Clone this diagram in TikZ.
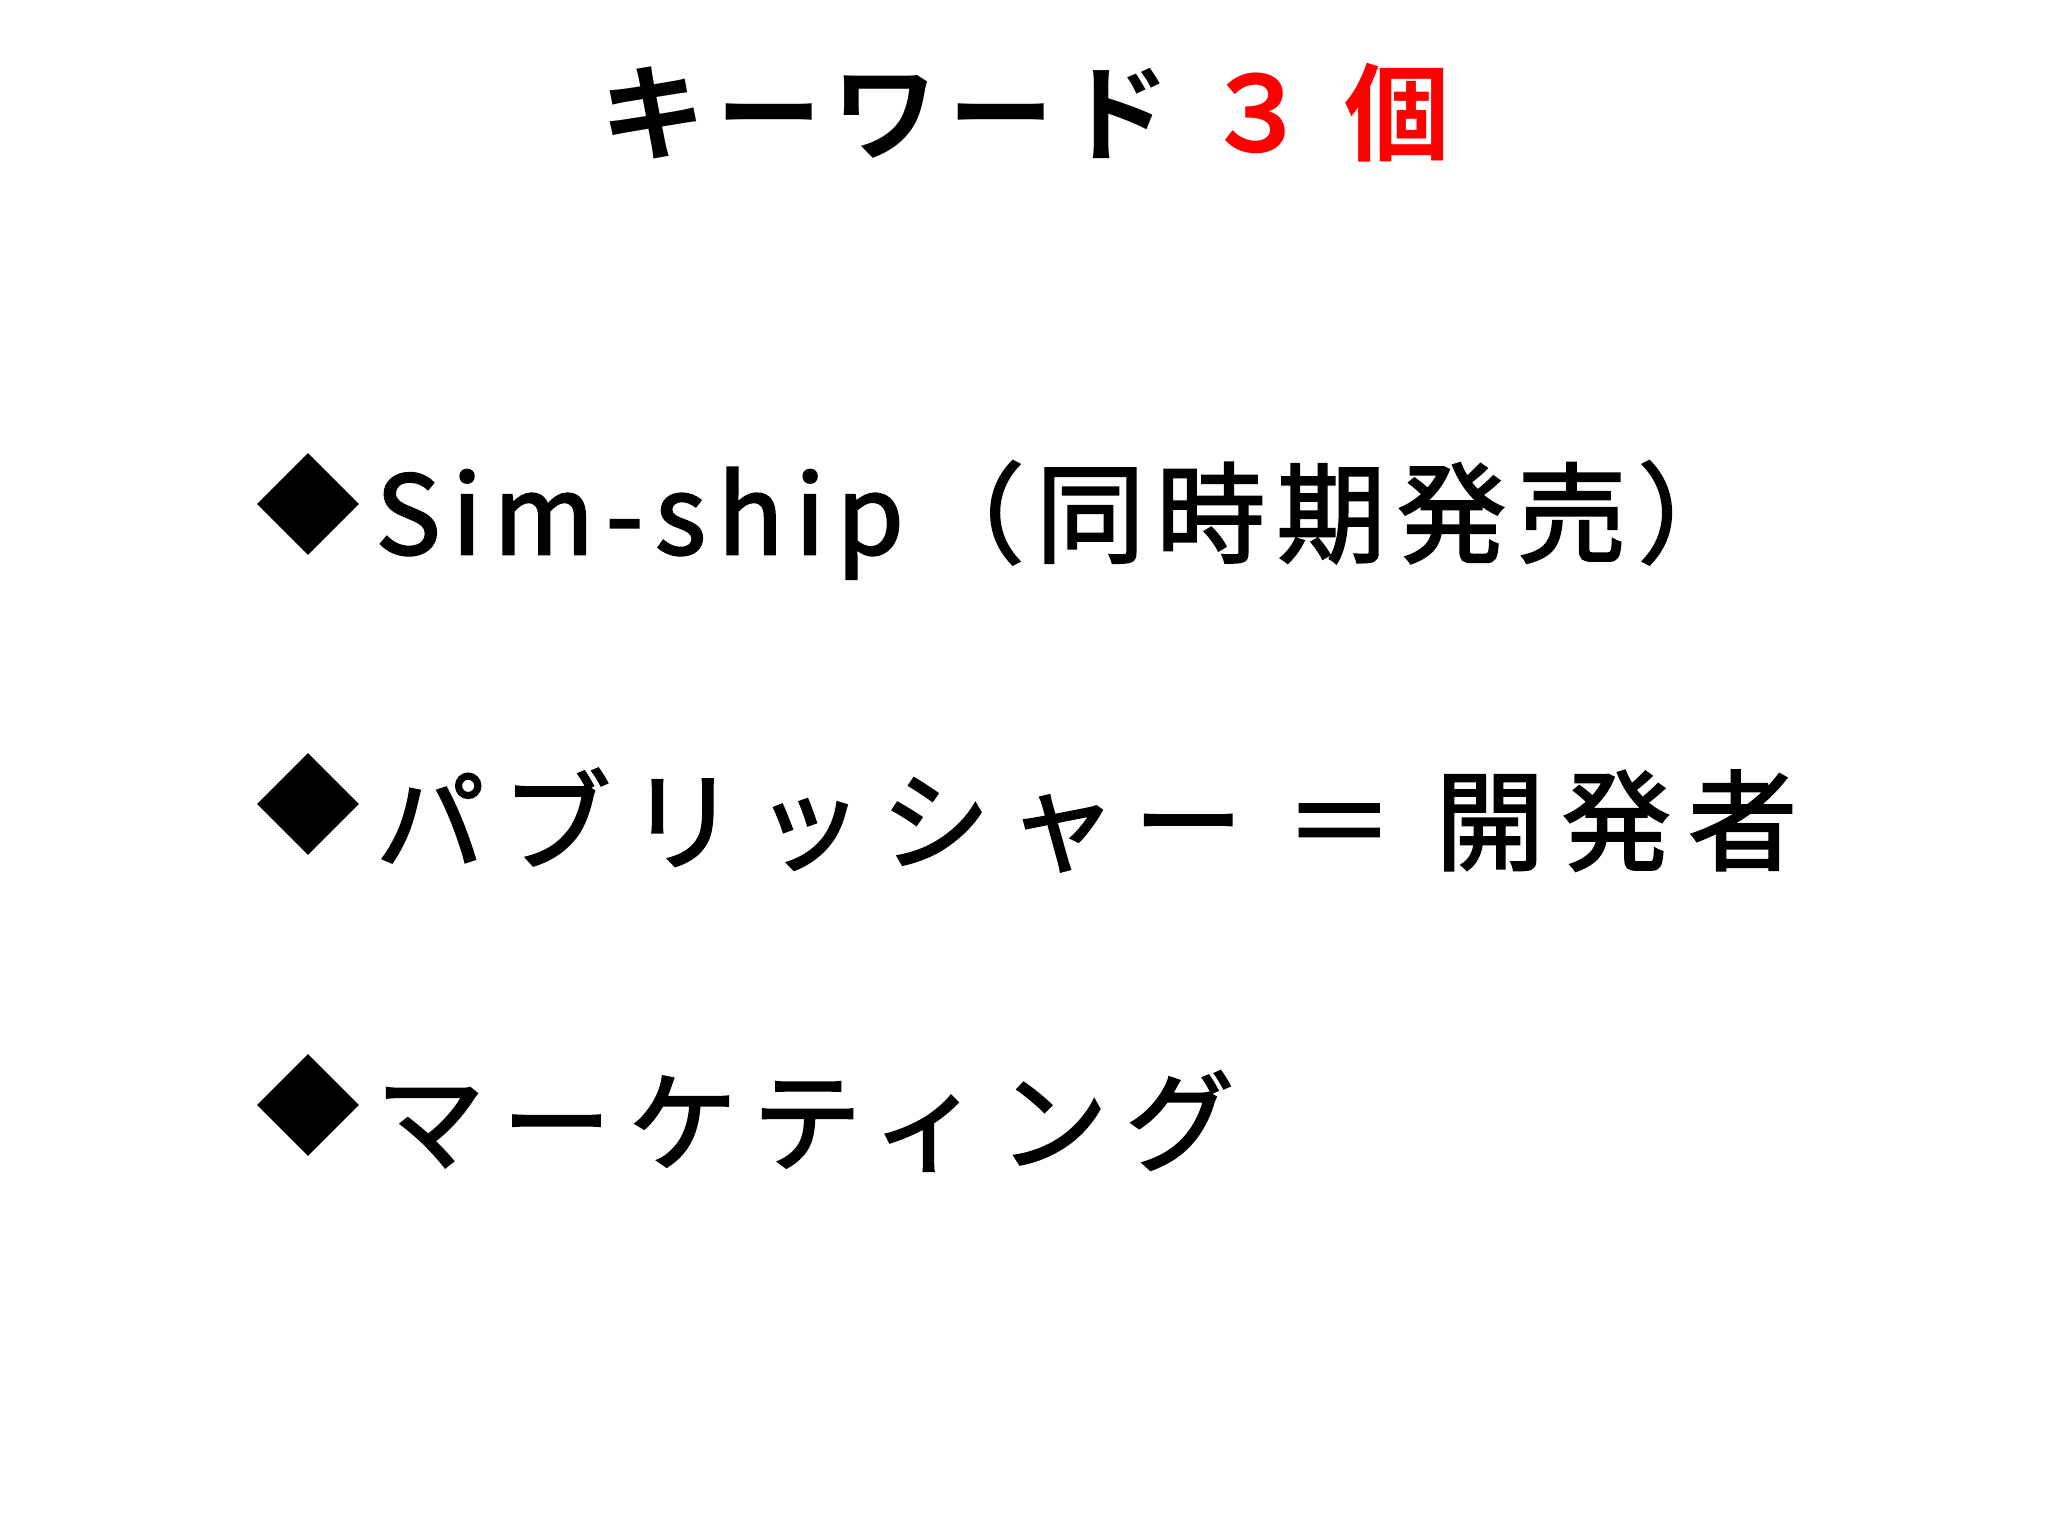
\documentclass[tikz,border=0pt]{standalone}
\usepackage{fontspec}
\newfontfamily\jp[LetterSpace=16,FakeBold=2]{Noto Sans CJK JP}
\newfontfamily\jpa[LetterSpace=10.5,FakeBold=2]{Noto Sans CJK JP}
\newfontfamily\jpb[LetterSpace=10]{Noto Sans CJK JP Bold}
\begin{document}
\begin{tikzpicture}[x=0.1mm,y=-0.1mm,
  line/.style={anchor=west,font=\jp\fontsize{31}{31}\selectfont,inner sep=0},
  dia/.style={fill=black,rotate=45,minimum size=7.2mm,inner sep=0}]
\useasboundingbox (0,0) rectangle (2048,1536);
\node[font=\jpb\fontsize{30}{30}\selectfont,inner sep=0] (t) at (1025,113) {キーワード {\color{red}３ 個}};
\node[dia] (d1) at (308,504) {};
\node[dia] (d2) at (308,804) {};
\node[dia] (d3) at (308,1105) {};
\node[line,font=\jpa\fontsize{31}{31}\selectfont] (l1) at (375,520) {Sim-ship（同時期発売）};
\node[line] (l2) at (375,820) {パブリッシャー ＝ 開発者};
\node[line] (l3) at (375,1121) {マーケティング};
\end{tikzpicture}
\end{document}
